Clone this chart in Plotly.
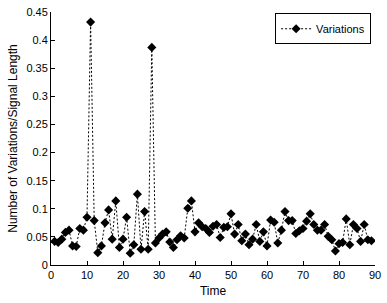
import plotly.graph_objects as go

time = list(range(1, 90))
variations = [
    0.042, 0.040, 0.046, 0.058, 0.062, 0.034, 0.033, 0.065, 0.062, 0.085,
    0.432, 0.079, 0.022, 0.034, 0.075, 0.098, 0.046, 0.114, 0.031, 0.046,
    0.085, 0.021, 0.036, 0.126, 0.028, 0.095, 0.028, 0.387, 0.039, 0.048,
    0.055, 0.059, 0.041, 0.031, 0.045, 0.052, 0.048, 0.101, 0.114, 0.059,
    0.075, 0.068, 0.065, 0.058, 0.069, 0.072, 0.049, 0.067, 0.068, 0.091,
    0.055, 0.072, 0.043, 0.055, 0.036, 0.046, 0.072, 0.042, 0.059, 0.034,
    0.080, 0.076, 0.039, 0.062, 0.095, 0.079, 0.079, 0.056, 0.061, 0.065,
    0.078, 0.091, 0.072, 0.062, 0.062, 0.072, 0.051, 0.045, 0.025, 0.038,
    0.040, 0.082, 0.036, 0.072, 0.065, 0.042, 0.072, 0.045, 0.043,
]
x_ticks = [0, 10, 20, 30, 40, 50, 60, 70, 80, 90]
y_ticks = [0, 0.05, 0.1, 0.15, 0.2, 0.25, 0.3, 0.35, 0.4, 0.45]
y_tick_labels = ["0", "0.05", "0.1", "0.15", "0.2", "0.25", "0.3", "0.35", "0.4", "0.45"]

fig = go.Figure()
fig.add_trace(go.Scatter(
    x=time, y=variations, mode="lines+markers", name="Variations",
    line=dict(color="black", width=1, dash="2px,2px"),
    marker=dict(symbol="diamond", size=7, color="black"),
))

font = dict(family="Liberation Sans, Arial, sans-serif", size=11, color="black")
fig.update_layout(
    width=387, height=303,
    margin=dict(l=51, r=6, t=7, b=38),
    paper_bgcolor="white", plot_bgcolor="white",
    font=font,
    showlegend=True,
    legend=dict(
        x=0.988, y=0.995, xanchor="right", yanchor="top",
        bordercolor="black", borderwidth=1, bgcolor="white",
        font=dict(family="Liberation Sans, Arial, sans-serif", size=11, color="black"),
        itemwidth=30, tracegroupgap=0,
    ),
    xaxis=dict(
        range=[0, 90], tickvals=x_ticks, ticks="inside", ticklen=4,
        tickcolor="black", showline=True, linecolor="black", linewidth=1,
        showgrid=False, zeroline=False, mirror=False,
        ticklabeloverflow="allow",
        title=dict(text="Time", standoff=6, font=dict(size=12)),
    ),
    yaxis=dict(
        range=[0, 0.45], tickvals=y_ticks, ticktext=y_tick_labels,
        ticks="inside", ticklen=4, tickcolor="black",
        showline=True, linecolor="black", linewidth=1,
        showgrid=False, zeroline=False, mirror=False,
        ticklabeloverflow="allow",
        title=dict(text="Number of Variations/Signal Length", standoff=6, font=dict(size=12)),
    ),
)

fig.write_html(
    "out.html",
    config={"displayModeBar": False},
    post_script="document.body.style.margin='0';document.body.style.overflow='hidden';",
)
